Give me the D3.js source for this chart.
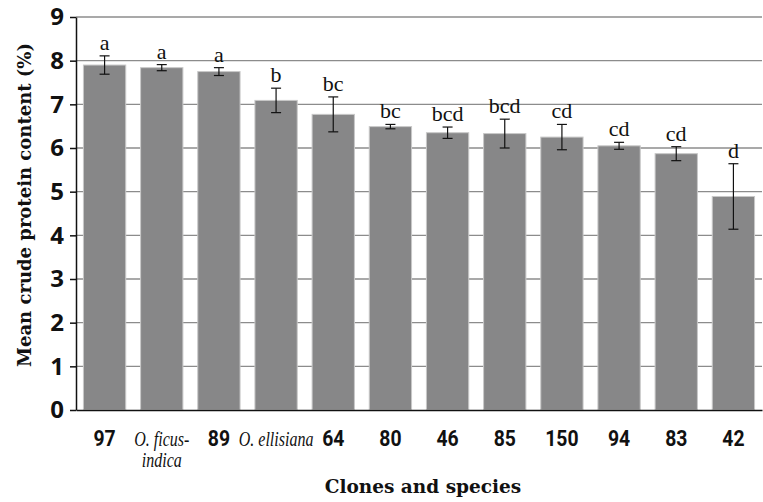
<!DOCTYPE html>
<html>
<head>
<meta charset="utf-8">
<script src="https://cdn.jsdelivr.net/npm/d3@7"></script>
<style>
  body { margin: 0; background: #fff; }
</style>
</head>
<body>
<div id="chart"></div>
<script>
// chart data
var categories = ["97", "O. ficus-indica", "89", "O. ellisiana", "64", "80", "46", "85", "150", "94", "83", "42"];
var means = [7.9, 7.84, 7.75, 7.09, 6.77, 6.49, 6.35, 6.33, 6.25, 6.05, 5.87, 4.89];
var errors = [0.21, 0.07, 0.09, 0.28, 0.4, 0.05, 0.13, 0.33, 0.29, 0.08, 0.16, 0.75];
var letters = ["a", "a", "a", "b", "bc", "bc", "bcd", "bcd", "cd", "cd", "cd", "d"];
var yTicks = [0, 1, 2, 3, 4, 5, 6, 7, 8, 9];

var svgWidth = 763;
var svgHeight = 502;
var margin = {top: 17, right: 1, bottom: 92, left: 76};
var width = svgWidth - margin.left - margin.right;
var height = svgHeight - margin.top - margin.bottom;

var data = categories.map(function(c, i) {
    return {cat: c, mean: means[i], err: errors[i], letter: letters[i]};
});

var svg = d3.select("#chart").append("svg")
    .attr("width", svgWidth)
    .attr("height", svgHeight);

var chartGroup = svg.append("g")
    .attr("transform", `translate(${margin.left}, ${margin.top})`);

var xBandScale = d3.scaleBand()
    .domain(categories)
    .range([0, width])
    .paddingInner(0.26)
    .paddingOuter(0.13);

var yLinearScale = d3.scaleLinear()
    .domain([0, 9])
    .range([height, 0]);

// gridlines
chartGroup.append("g")
    .selectAll("line")
    .data(yTicks.filter(d => d > 0))
    .enter()
    .append("line")
    .attr("x1", 0)
    .attr("x2", width)
    .attr("y1", d => yLinearScale(d))
    .attr("y2", d => yLinearScale(d))
    .attr("stroke", "#8c8c8c")
    .attr("stroke-width", 1.3);

// bars
chartGroup.append("g")
    .selectAll("rect")
    .data(data)
    .enter()
    .append("rect")
    .attr("x", d => xBandScale(d.cat))
    .attr("y", d => yLinearScale(d.mean))
    .attr("width", xBandScale.bandwidth())
    .attr("height", d => height - yLinearScale(d.mean))
    .attr("fill", "#878788")
    .attr("stroke", "#c8c8c8")
    .attr("stroke-width", 1);

// error bars
var errGroup = chartGroup.append("g")
    .attr("stroke", "#111")
    .attr("stroke-width", 1.2);
data.forEach(function(d) {
    var cx = xBandScale(d.cat) + xBandScale.bandwidth() / 2;
    var yTop = yLinearScale(d.mean + d.err);
    var yBot = yLinearScale(d.mean - d.err);
    errGroup.append("line").attr("x1", cx).attr("x2", cx).attr("y1", yTop).attr("y2", yBot);
    errGroup.append("line").attr("x1", cx - 5).attr("x2", cx + 5).attr("y1", yTop).attr("y2", yTop);
    errGroup.append("line").attr("x1", cx - 5).attr("x2", cx + 5).attr("y1", yBot).attr("y2", yBot);
});

// significance letters
chartGroup.append("g")
    .selectAll("text")
    .data(data)
    .enter()
    .append("text")
    .attr("x", d => xBandScale(d.cat) + xBandScale.bandwidth() / 2)
    .attr("y", d => yLinearScale(d.mean + d.err) - 6)
    .attr("text-anchor", "middle")
    .style("font-family", "'Liberation Serif', serif")
    .style("font-size", "22px")
    .attr("fill", "#111")
    .text(d => d.letter);

// axes
var leftAxis = d3.axisLeft(yLinearScale)
    .tickValues(yTicks)
    .tickSize(6)
    .tickSizeOuter(0)
    .tickPadding(6);
var yAxis = chartGroup.append("g").call(leftAxis);
yAxis.selectAll("text")
    .style("font-family", "'Open Sans', sans-serif")
    .style("font-weight", "bold")
    .style("font-size", "24px")
    .attr("fill", "#111");
yAxis.selectAll("line, path").attr("stroke", "#111").attr("stroke-width", 1.5);

var bottomAxis = d3.axisBottom(xBandScale).tickSize(0).tickFormat("");
var xAxis = chartGroup.append("g")
    .attr("transform", `translate(0, ${height})`)
    .call(bottomAxis);
xAxis.selectAll("path").attr("stroke", "#111").attr("stroke-width", 1.5);

// x tick labels, squeezed horizontally like the condensed face of the original
var xLabels = chartGroup.append("g")
    .attr("transform", `translate(0, ${height + 36})`);
data.forEach(function(d, i) {
    var cx = xBandScale(d.cat) + xBandScale.bandwidth() / 2;
    var isSpecies = d.cat.indexOf("O.") === 0;
    var g = xLabels.append("g")
        .attr("transform", `translate(${cx}, 0) scale(${isSpecies ? 0.8 : 0.88}, 1)`);
    var t = g.append("text")
        .attr("x", 0)
        .attr("text-anchor", "middle")
        .attr("fill", "#111");
    if (isSpecies) {
        t.style("font-family", "'Liberation Serif', serif")
            .style("font-style", "italic")
            .style("font-size", "20px");
    } else {
        t.style("font-family", "'Roboto', sans-serif")
            .style("font-weight", "bold")
            .style("font-size", "22px");
    }
    if (d.cat === "O. ficus-indica") {
        t.append("tspan").attr("x", 0).attr("dy", 0).text("O. ficus-");
        t.append("tspan").attr("x", 0).attr("dy", 21).text("indica");
    } else {
        t.text(d.cat);
    }
});

// axis titles
svg.append("text")
    .attr("transform", "rotate(-90)")
    .attr("x", -205)
    .attr("y", 31)
    .attr("text-anchor", "middle")
    .style("font-family", "'DejaVu Serif', serif")
    .style("font-weight", "bold")
    .style("font-size", "18px")
    .attr("fill", "#111")
    .text("Mean crude protein content (%)");

svg.append("text")
    .attr("x", margin.left + width / 2 + 4)
    .attr("y", 493)
    .attr("text-anchor", "middle")
    .style("font-family", "'DejaVu Serif', serif")
    .style("font-weight", "bold")
    .style("font-size", "18.5px")
    .attr("fill", "#111")
    .text("Clones and species");
</script>
</body>
</html>
